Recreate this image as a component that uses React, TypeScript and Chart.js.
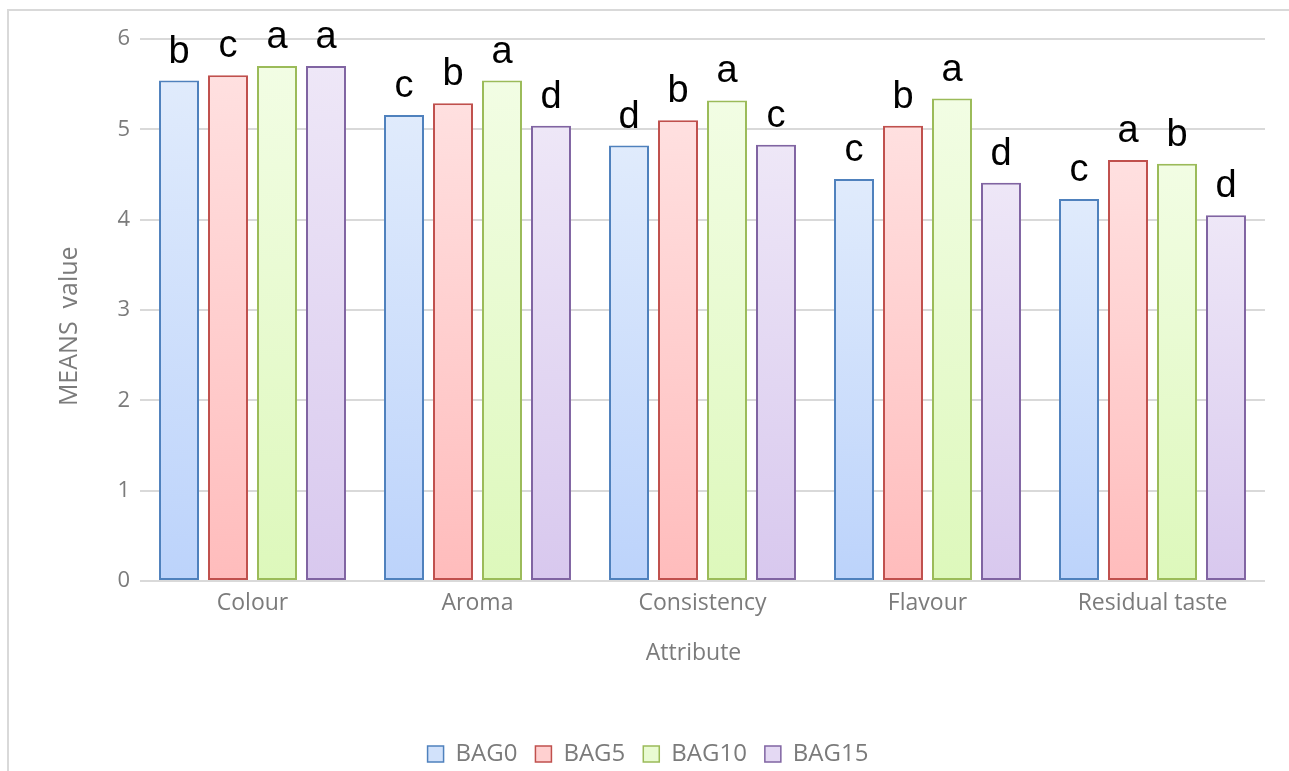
import React, { useEffect, useRef } from 'react';
import { Chart, registerables } from 'chart.js';

Chart.register(...registerables);

const categories = ['Colour', 'Aroma', 'Consistency', 'Flavour', 'Residual taste'];
const seriesNames = ['BAG0', 'BAG5', 'BAG10', 'BAG15'];
const bag0 = [5.54, 5.16, 4.82, 4.45, 4.23];
const bag5 = [5.6, 5.29, 5.1, 5.04, 4.66];
const bag10 = [5.7, 5.54, 5.32, 5.34, 4.62];
const bag15 = [5.7, 5.04, 4.83, 4.41, 4.05];
const letters0 = ['b', 'c', 'd', 'c', 'c'];
const letters5 = ['c', 'b', 'b', 'b', 'a'];
const letters10 = ['a', 'a', 'a', 'a', 'b'];
const letters15 = ['a', 'd', 'c', 'd', 'd'];
const yTicks = [0, 1, 2, 3, 4, 5, 6];
const xTitle = 'Attribute';
const yTitle = 'MEANS  value';

const seriesValues = [bag0, bag5, bag10, bag15];
const seriesLetters = [letters0, letters5, letters10, letters15];

const borderColors = ['#4f81bd', '#c0504d', '#9bbb59', '#8064a2'];
const topColors = ['#e0ebfc', '#ffe0e0', '#f2fde4', '#eee7f7'];
const bottomColors = ['#bcd3fb', '#ffbcbc', '#ddf8bb', '#d8c8ee'];
const legendFills = ['#d2e2fb', '#ffd0d0', '#e9fbd2', '#e4d9f3'];
const textGray = '#7b7b7b';
const gridGray = '#d9d9d9';

const letterPlugin = {
  id: 'letters',
  afterDatasetsDraw(chart: any) {
    const ctx = chart.ctx;
    ctx.save();
    ctx.font = '38px "Liberation Sans", Arial, sans-serif';
    ctx.fillStyle = '#000000';
    ctx.textAlign = 'center';
    ctx.textBaseline = 'alphabetic';
    chart.data.datasets.forEach((_ds: any, di: number) => {
      const meta = chart.getDatasetMeta(di);
      meta.data.forEach((el: any, i: number) => {
        const t = seriesLetters[di][i];
        if (t) ctx.fillText(t, el.x, el.y - 18);
      });
    });
    ctx.restore();
  },
};

function makeFill(di: number) {
  return (c: any) => {
    const chart = c.chart;
    const area = chart.chartArea;
    if (!area || c.type !== 'data' || !chart.scales || !chart.scales.y) return legendFills[di];
    const ys = chart.scales.y;
    const top = ys.getPixelForValue(c.raw as number);
    const bottom = ys.getPixelForValue(0);
    if (!isFinite(top) || !isFinite(bottom) || bottom - top < 1) return legendFills[di];
    const g = chart.ctx.createLinearGradient(0, top, 0, bottom);
    g.addColorStop(0, topColors[di]);
    g.addColorStop(1, bottomColors[di]);
    return g;
  };
}

export default function App() {
  const ref = useRef<HTMLCanvasElement | null>(null);

  useEffect(() => {
    document.documentElement.style.overflow = 'hidden';
    document.body.style.overflow = 'hidden';
    if (!ref.current) return;
    Chart.defaults.font.family = '"Open Sans", "Noto Sans", sans-serif';
    const chart = new Chart(ref.current, {
      type: 'bar',
      data: {
        labels: categories,
        datasets: seriesNames.map((name, di) => ({
          label: name,
          data: seriesValues[di],
          backgroundColor: makeFill(di),
          borderColor: borderColors[di],
          borderWidth: 2,
          borderSkipped: false,
          categoryPercentage: 0.871,
          barPercentage: 0.816,
        })),
      },
      options: {
        responsive: false,
        animation: false,
        devicePixelRatio: 1,
        layout: { padding: { left: 22, right: 24, top: 28, bottom: 15 } },
        plugins: {
          tooltip: { enabled: false },
          title: { display: false },
          legend: {
            display: true,
            position: 'bottom',
            labels: {
              boxWidth: 16,
              boxHeight: 16,
              padding: 18,
              color: textGray,
              font: { size: 24 },
              generateLabels: (ch: any) =>
                Chart.defaults.plugins.legend.labels.generateLabels(ch).map((l: any, i: number) => ({
                  ...l,
                  fillStyle: legendFills[i],
                  strokeStyle: borderColors[i],
                  lineWidth: 1.5,
                })),
            },
          },
        },
        scales: {
          x: {
            grid: { display: false, drawTicks: false },
            border: { display: false },
            ticks: { color: textGray, font: { size: 23 }, padding: 9, maxRotation: 0 },
            title: {
              display: true,
              text: xTitle + '   ',
              color: textGray,
              font: { size: 23 },
              padding: { top: 0, bottom: 57 },
            },
            afterFit: (s: any) => {
              s.height = 143;
            },
          },
          y: {
            min: yTicks[0],
            max: yTicks[yTicks.length - 1],
            grid: { color: gridGray, lineWidth: 2, drawTicks: false },
            border: { display: false },
            ticks: { stepSize: 1, color: textGray, font: { size: 22 }, padding: 10 },
            title: {
              display: true,
              text: yTitle + '     ',
              color: textGray,
              font: { size: 25 },
              padding: { top: 24, bottom: 0 },
            },
            afterFit: (s: any) => {
              s.width = 109;
            },
          },
        },
      },
      plugins: [letterPlugin],
    } as any);
    return () => chart.destroy();
  }, []);

  return (
    <div
      style={{
        position: 'absolute',
        left: 7,
        top: 9,
        width: 1282,
        height: 762,
        overflow: 'hidden',
        boxSizing: 'border-box',
        borderLeft: '2px solid #d9d9d9',
        borderTop: '2px solid #d9d9d9',
        background: '#ffffff',
      }}
    >
      <canvas ref={ref} width={1280} height={780} style={{ display: 'block' }} />
    </div>
  );
}
